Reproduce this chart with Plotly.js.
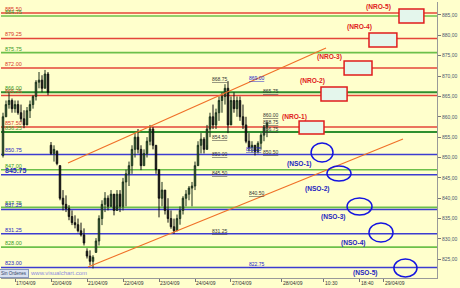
<!DOCTYPE html>
<html><head><meta charset="utf-8">
<script src="https://cdn.plot.ly/plotly-3.0.1.min.js"></script>
<style>html,body{margin:0;padding:0;background:#ffffcc;}#c{width:460px;height:288px;}</style>
</head><body><div id="c"></div>
<script>
// ---- price bars (one slot per bar) ----
const high  = [861,864,866,864.5,864,864,863,861.6,862.4,864,865.3,869,871,870.2,871.5,871,
853.8,853,851.8,848.1,842,840.7,838.3,837,835.8,835,834,832.6,
827.7,827.2,826,830.2,835.8,839.5,841.5,840.7,842,840.7,842,842,
845,847,849,853,856,857,853,852,855,858,857.5,853,
846,844,842,840,837,835,836,838,840.5,842,843,844,
849,854,856,855,858,861,863,862,865,866,868,868.75,
865,866,865,865,863,860,856,854,853,854,856,858,858.75];
const low   = [850,860,862,861,861,860.5,858.7,857.2,858.4,859.7,862,864,867,866,867,865.3,
850.6,849,848.1,839.5,837,836.6,834.6,833.4,832.6,831.6,830.6,828.4,
825.2,823.5,822.75,826.7,828.4,833.4,836.6,837,838.3,835.8,838.3,836.6,
837,838,843,846,850,851,846.9,848,850,853,852,846,
835.3,838,836,834,832.5,831.25,832,833.5,836,838,839.5,838,
842,848,851,851,853,855,857,857,859,861,863,856,
859,861,860,859,857,853.5,851.5,851.25,850.5,851,852,854,855];
const open  = [850.5,860,863,864,862,863,861,859.5,858,861.5,863,865,868.5,869,867,870.5,
853,851,851.5,848,840,838.5,837.5,835.5,834,833.5,832,831,
827,825.8,824.5,826.7,829.5,835,838.5,840,838,841,837,841,
838,844,846,848,852,855,852,848,851,854,857,853,
847,840,842,837,835,833,832,835,837,840,841,842.5,
843,848,853,854.5,852,857,860,858,861,864,865,867,
858,864,862,864,860,858,854,852.5,853,851.5,853.5,855.5,857.5];
const close = [860,863,864,862,863,861,859.5,858,861.5,863,865,868.5,869,867,870.5,866,
851,852,848.5,840,838.5,837.5,835.5,834,833.5,832,831,829,
825.8,824.5,825.5,829.5,835,838.5,840,838,841,837,841,838,
844,846,848,852,855,852,848,851,854,857,853,847,
840,842,837,835,833,832,835,837,840,841,842.5,843,
848,853,854.5,852,857,860,858,861,864,865,867,858,
864,862,864,860,858,854,852.5,853,851.5,853.5,855.5,857.5,858.5];

// ---- time axis ----
const tickSlots  = [5,17,29,41,53,65,77,94,108,120,128];
const tickLabels = ['17/04/09','20/04/09','21/04/09','22/04/09','23/04/09','24/04/09','27/04/09','28/04/09','10:30','18:40','29/04/09'];
const priceTicks = [825,830,835,840,845,850,855,860,865,870,875,880,885];

// ---- horizontal levels ----
const redLevels   = [885.50, 879.25, 872.00, 865.25, 857.50];
const greenLevels = [884.75, 875.75, 866.00, 856.25, 847.00, 837.75, 828.00];
const blueLevels  = [850.75, 845.75, 837.25, 831.25, 823.00];

// ---- trend lines (slot, price) ----
const upperTrendSlots = [22.67, 108.67], upperTrendPrices = [848.65, 876.9];
const lowerTrendSlots = [29.33, 134.33], lowerTrendPrices = [823.1, 854.55];

// ---- NRO boxes ----
const nroNames = ['(NRO-1)','(NRO-2)','(NRO-3)','(NRO-4)','(NRO-5)'];
const nroSlot0 = [99.7,107,114.7,123,133];
const nroSlot1 = [108,115.7,124,132.3,141.3];
const nroLo    = [855.78,863.88,870.27,877.14,883.04];
const nroHi    = [858.97,867.32,873.70,880.58,886.47];
const nroLabelSlot  = [98.3,104.2,109.7,119.7,126.2];
const nroLabelPrice = [859.95,868.8,874.7,882.05,886.96];

// ---- NSO ellipses ----
const nsoNames = ['(NSO-1)','(NSO-2)','(NSO-3)','(NSO-4)','(NSO-5)'];
const nsoSlot0 = [103.7,109,115.7,123,131.3];
const nsoSlot1 = [111,117,124,131,139];
const nsoLo    = [848.9,844.23,835.88,829.25,820.66];
const nsoHi    = [853.57,847.92,840.06,833.92,825.08];
const nsoLabelSlot  = [99.8,105.8,111.2,117.7,121.8];
const nsoLabelPrice = [848.4,842.3,835.4,829.0,821.64];

// ---- swing price markers ----
const markText  = ['868.75','869.00','865.75','860.00','858.75','856.75','851.25','850.50','854.50','850.00','845.50','840.50','831.25','822.75'];
const markSlot  = [73.3,85.7,90.5,90.5,90.5,90.5,84.8,90.5,73.5,73.5,73.3,85.7,73.3,85.8];
const markPrice = [869.28,869.53,866.34,860.44,858.72,857.0,852.09,851.36,855.04,850.86,846.2,841.29,831.95,823.85];
const markBlue  = [false,true,false,false,false,false,true,false,false,false,false,false,false,true];

const slots = high.map((_, i) => i + 1);

const traces = [
  {type:'candlestick', x:slots, open:open, high:high, low:low, close:close,
   increasing:{line:{color:'#1c301c', width:1}, fillcolor:'#3a7a3a'},
   decreasing:{line:{color:'#111111', width:1}, fillcolor:'#111111'},
   whiskerwidth:0, hoverinfo:'skip'},
  {type:'scatter', mode:'lines', x:upperTrendSlots, y:upperTrendPrices, line:{color:'#f07028', width:1.2}, hoverinfo:'skip'},
  {type:'scatter', mode:'lines', x:lowerTrendSlots, y:lowerTrendPrices, line:{color:'#f07028', width:1.2}, hoverinfo:'skip'}
];

const shapes = [];
const annotations = [];
function level(v, color, width, labelColor, bold, size) {
  shapes.push({type:'line', xref:'paper', x0:0, x1:1, yref:'y', y0:v, y1:v, layer:'below', line:{color:color, width:width}});
  annotations.push({xref:'paper', x:0, xanchor:'left', xshift:2, yref:'y', y:v, yanchor:'bottom', yshift:-1,
    text: bold ? '<b>'+v.toFixed(2)+'</b>' : v.toFixed(2), showarrow:false,
    font:{family:'Arial, Liberation Sans, sans-serif', size:size, color:labelColor}});
}
redLevels.forEach(v => level(v, '#e4463a', 1.5, '#d83a2a', false, 5.5));
greenLevels.forEach(v => {
  const dark = (v === 856.25 || v === 866.00);
  level(v, dark ? '#2e8f2e' : '#6cc04a', dark ? 2 : 1.6, '#3a9a2a', false, 5.5);
});
blueLevels.forEach(v => level(v, '#3c3cd0', 1.5, '#2a2ac0', v === 845.75, v === 845.75 ? 7 : 5.5));

nroNames.forEach((n, i) => {
  shapes.push({type:'rect', xref:'x', yref:'y', x0:nroSlot0[i], x1:nroSlot1[i], y0:nroLo[i], y1:nroHi[i],
    line:{color:'#e01c1c', width:1.5}, fillcolor:'#e4f6ec', layer:'above'});
  annotations.push({xref:'x', yref:'y', x:nroLabelSlot[i], y:nroLabelPrice[i], text:'<b>'+n+'</b>', showarrow:false,
    font:{family:'Arial, Liberation Sans, sans-serif', size:6.6, color:'#e02020'}});
});
nsoNames.forEach((n, i) => {
  shapes.push({type:'circle', xref:'x', yref:'y', x0:nsoSlot0[i], x1:nsoSlot1[i], y0:nsoLo[i], y1:nsoHi[i],
    line:{color:'#1414e0', width:1.5}, layer:'above'});
  annotations.push({xref:'x', yref:'y', x:nsoLabelSlot[i], y:nsoLabelPrice[i], text:'<b>'+n+'</b>', showarrow:false,
    font:{family:'Arial, Liberation Sans, sans-serif', size:6.6, color:'#2424c0'}});
});
markText.forEach((t, i) => {
  annotations.push({xref:'x', yref:'y', x:markSlot[i], y:markPrice[i], text:'<u>'+t+'</u>', showarrow:false,
    font:{family:'Arial, Liberation Sans, sans-serif', size:5, color: markBlue[i] ? '#2222cc' : '#333333'}});
});
annotations.push({xref:'paper', yref:'paper', x:0.062, xanchor:'left', y:0.018, yanchor:'middle',
  text:'www.visualchart.com', showarrow:false, font:{family:'Arial, Liberation Sans, sans-serif', size:6, color:'#8c8ce0'}});
annotations.push({xref:'paper', yref:'paper', x:0.0298, y:0.016, xanchor:'center', yanchor:'middle',
  text:'Sin Ordenes', showarrow:false, bgcolor:'#d8e0f0', bordercolor:'#8899bb', borderwidth:1, borderpad:1,
  font:{family:'Arial, Liberation Sans, sans-serif', size:4.5, color:'#334466'}});

const layout = {
  width:460, height:288,
  margin:{l:1, r:23, t:2, b:10, pad:0},
  paper_bgcolor:'#ffffcc', plot_bgcolor:'#ffffcc',
  showlegend:false, separators:',.',
  xaxis:{range:[1/3, 145.67], tickvals:tickSlots, ticktext:tickLabels, ticklabelposition:'outside right',
    tickangle:0, ticks:'outside', ticklen:3, tickcolor:'#777', ticklabelstandoff:0,
    tickfont:{family:'Arial, Liberation Sans, sans-serif', size:5, color:'#333'},
    showgrid:false, zeroline:false, showline:true, linecolor:'#999', linewidth:1, rangeslider:{visible:false}, fixedrange:true},
  yaxis:{side:'right', range:[820.41, 888.19], tickvals:priceTicks, tickformat:'.2f', ticks:'outside', ticklen:3,
    tickcolor:'#777', tickfont:{family:'Arial, Liberation Sans, sans-serif', size:5, color:'#4a5670'},
    showgrid:false, zeroline:false, showline:true, linecolor:'#999', linewidth:1, fixedrange:true},
  shapes:shapes, annotations:annotations
};
Plotly.newPlot('c', traces, layout, {displayModeBar:false, staticPlot:true});
</script></body></html>
